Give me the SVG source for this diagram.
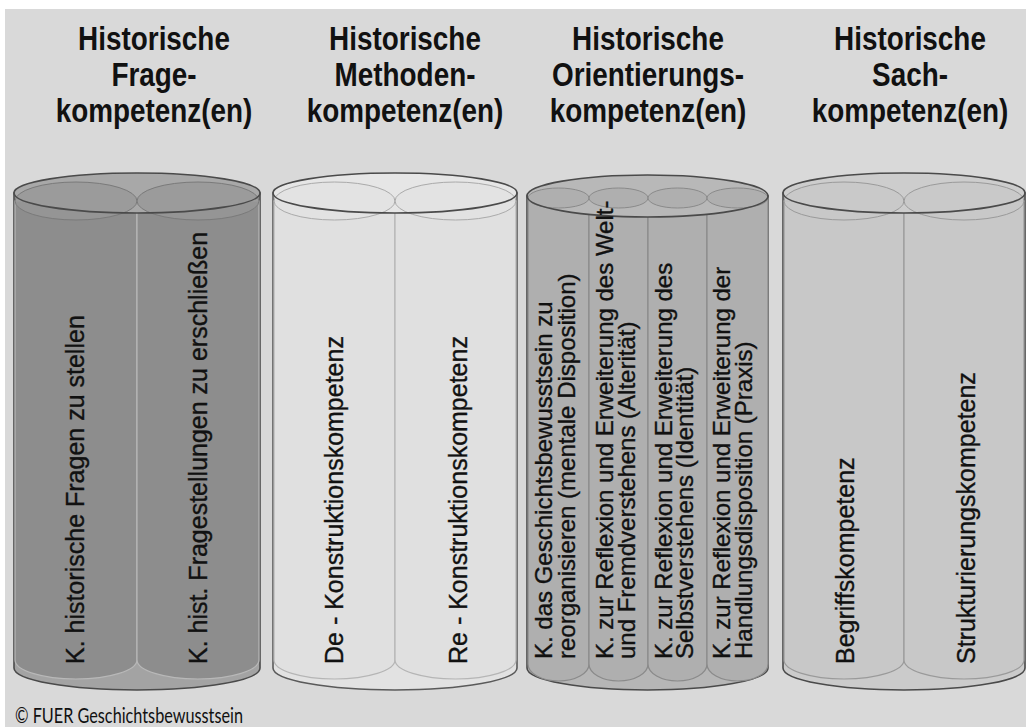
<svg xmlns="http://www.w3.org/2000/svg" width="1026" height="727" viewBox="0 0 1026 727">
<style>
.h{font-family:"Liberation Sans",Arial,sans-serif;font-weight:bold;font-size:34px;fill:#111;text-anchor:middle}
.v{font-family:"Liberation Sans",Arial,sans-serif;font-size:25px;fill:#111;stroke:#111;stroke-width:0.35}
.v3{font-family:"Liberation Sans",Arial,sans-serif;font-size:24px;fill:#111;stroke:#111;stroke-width:0.35}
.ostroke{fill:none;stroke:#4a4a4a;stroke-width:1.6}
.sub{stroke-width:1.2}
.copy{font-family:Lato,"Open Sans",sans-serif;font-size:21px;fill:#111}
</style>
<rect x="0" y="0" width="1026" height="727" fill="#ffffff"/>
<rect x="5" y="9" width="1021" height="718" fill="#d9d9d9"/>

<g id="headings">
<g transform="translate(154,0) scale(0.82,1)"><text class="h" x="0" y="50">Historische</text><text class="h" x="0" y="86">Frage-</text><text class="h" x="0" y="122">kompetenz(en)</text></g>
<g transform="translate(405,0) scale(0.82,1)"><text class="h" x="0" y="50">Historische</text><text class="h" x="0" y="86">Methoden-</text><text class="h" x="0" y="122">kompetenz(en)</text></g>
<g transform="translate(648,0) scale(0.82,1)"><text class="h" x="0" y="50">Historische</text><text class="h" x="0" y="86">Orientierungs-</text><text class="h" x="0" y="122">kompetenz(en)</text></g>
<g transform="translate(910,0) scale(0.82,1)"><text class="h" x="0" y="50">Historische</text><text class="h" x="0" y="86">Sach-</text><text class="h" x="0" y="122">kompetenz(en)</text></g>
</g>

<g id="connectors"></g>

<!-- Column 1 -->
<g id="cyl-frage">
<path d="M14,193 V668 A123,22 0 0 0 260,668 V193 Z" fill="#a3a3a3" stroke="#4a4a4a" stroke-width="1.6"/>
<path class="sub" d="M15,201 V660 A61,19 0 0 0 137,660 V201 Z" fill="#8d8d8d" stroke="#b8b8b8"/>
<path class="sub" d="M137,201 V660 A61,19 0 0 0 259,660 V201 Z" fill="#8d8d8d" stroke="#b8b8b8"/>
<ellipse cx="137" cy="193" rx="123" ry="20" fill="#a8a8a8"/>
<ellipse cx="76" cy="201" rx="61" ry="19" fill="#979797" fill-opacity="0.8" stroke="#7a7a7a" stroke-width="1"/>
<ellipse cx="198" cy="201" rx="61" ry="19" fill="#979797" fill-opacity="0.8" stroke="#7a7a7a" stroke-width="1"/>
<ellipse class="ostroke" cx="137" cy="193" rx="123" ry="20"/>
<text class="v" transform="translate(84,664) rotate(-90)">K. historische Fragen zu stellen</text>
<text class="v" transform="translate(207,664) rotate(-90)">K. hist. Fragestellungen zu erschließen</text>
</g>

<!-- Column 2 -->
<g id="cyl-methoden">
<path d="M273,193 V668 A122,22 0 0 0 517,668 V193 Z" fill="#e2e2e2" stroke="#5a5a5a" stroke-width="1.6"/>
<path class="sub" d="M274,201 V660 A60.5,19 0 0 0 395,660 V201 Z" fill="#e0e0e0" stroke="#b5b5b5"/>
<path class="sub" d="M395,201 V660 A60.5,19 0 0 0 516,660 V201 Z" fill="#e0e0e0" stroke="#b5b5b5"/>
<ellipse cx="395" cy="193" rx="122" ry="20" fill="#e6e6e6"/>
<ellipse cx="334.5" cy="201" rx="60.5" ry="19" fill="#e2e2e2" fill-opacity="0.8" stroke="#aaaaaa" stroke-width="1"/>
<ellipse cx="455.5" cy="201" rx="60.5" ry="19" fill="#e2e2e2" fill-opacity="0.8" stroke="#aaaaaa" stroke-width="1"/>
<ellipse class="ostroke" cx="395" cy="193" rx="122" ry="20"/>
<text class="v" transform="translate(343,664) rotate(-90)">De - Konstruktionskompetenz</text>
<text class="v" transform="translate(467,664) rotate(-90)">Re - Konstruktionskompetenz</text>
</g>

<!-- Column 3 -->
<g id="cyl-orientierung">
<path d="M527,196 V668 A120.5,22 0 0 0 768,668 V196 Z" fill="#b6b6b6" stroke="#4a4a4a" stroke-width="1.6"/>
<path class="sub" d="M528,198 V664 A30.5,17 0 0 0 589,664 V198 Z" fill="#afafaf" stroke="#8a8a8a"/>
<path class="sub" d="M589,198 V664 A29.5,17 0 0 0 648,664 V198 Z" fill="#afafaf" stroke="#8a8a8a"/>
<path class="sub" d="M648,198 V664 A29.5,17 0 0 0 707,664 V198 Z" fill="#afafaf" stroke="#8a8a8a"/>
<path class="sub" d="M707,198 V664 A30.5,17 0 0 0 768,664 V198 Z" fill="#afafaf" stroke="#8a8a8a"/>
<ellipse cx="647.5" cy="196" rx="120.5" ry="21" fill="#b8b8b8"/>
<ellipse cx="558.5" cy="198" rx="30.5" ry="10" fill="#afafaf" stroke="#8a8a8a" stroke-width="1"/>
<ellipse cx="618.5" cy="198" rx="29.5" ry="10" fill="#afafaf" stroke="#8a8a8a" stroke-width="1"/>
<ellipse cx="677.5" cy="198" rx="29.5" ry="10" fill="#afafaf" stroke="#8a8a8a" stroke-width="1"/>
<ellipse cx="737.5" cy="198" rx="30.5" ry="10" fill="#afafaf" stroke="#8a8a8a" stroke-width="1"/>
<ellipse class="ostroke" cx="647.5" cy="196" rx="120.5" ry="21"/>
<text class="v3" transform="translate(552,659) rotate(-90)">K. das Geschichtsbewusstsein zu</text>
<text class="v3" transform="translate(575,659) rotate(-90)">reorganisieren (mentale Disposition)</text>
<text class="v3" transform="translate(613,659) rotate(-90)">K. zur Reflexion und Erweiterung des Welt-</text>
<text class="v3" transform="translate(635,659) rotate(-90)">und Fremdverstehens (Alterität)</text>
<text class="v3" transform="translate(672,659) rotate(-90)">K. zur Reflexion und Erweiterung des</text>
<text class="v3" transform="translate(693,659) rotate(-90)">Selbstverstehens (Identität)</text>
<text class="v3" transform="translate(730,659) rotate(-90)">K. zur Reflexion und Erweiterung der</text>
<text class="v3" transform="translate(752,659) rotate(-90)">Handlungsdisposition (Praxis)</text>
</g>

<!-- Column 4 -->
<g id="cyl-sach">
<path d="M783,193 V668 A121,22 0 0 0 1025,668 V193 Z" fill="#cbcbcb" stroke="#4a4a4a" stroke-width="1.6"/>
<path class="sub" d="M784,201 V660 A60,19 0 0 0 904,660 V201 Z" fill="#c8c8c8" stroke="#9a9a9a"/>
<path class="sub" d="M904,201 V660 A60,19 0 0 0 1024,660 V201 Z" fill="#c8c8c8" stroke="#9a9a9a"/>
<ellipse cx="904" cy="193" rx="121" ry="20" fill="#cdcdcd"/>
<ellipse cx="844" cy="201" rx="60" ry="19" fill="#c8c8c8" fill-opacity="0.8" stroke="#9a9a9a" stroke-width="1"/>
<ellipse cx="964" cy="201" rx="60" ry="19" fill="#c8c8c8" fill-opacity="0.8" stroke="#9a9a9a" stroke-width="1"/>
<ellipse class="ostroke" cx="904" cy="193" rx="121" ry="20"/>
<text class="v" transform="translate(854,664) rotate(-90)">Begriffskompetenz</text>
<text class="v" transform="translate(975,664) rotate(-90)">Strukturierungskompetenz</text>
</g>

<text class="copy" x="15" y="723" textLength="228" lengthAdjust="spacingAndGlyphs">© FUER Geschichtsbewusstsein</text>
</svg>
